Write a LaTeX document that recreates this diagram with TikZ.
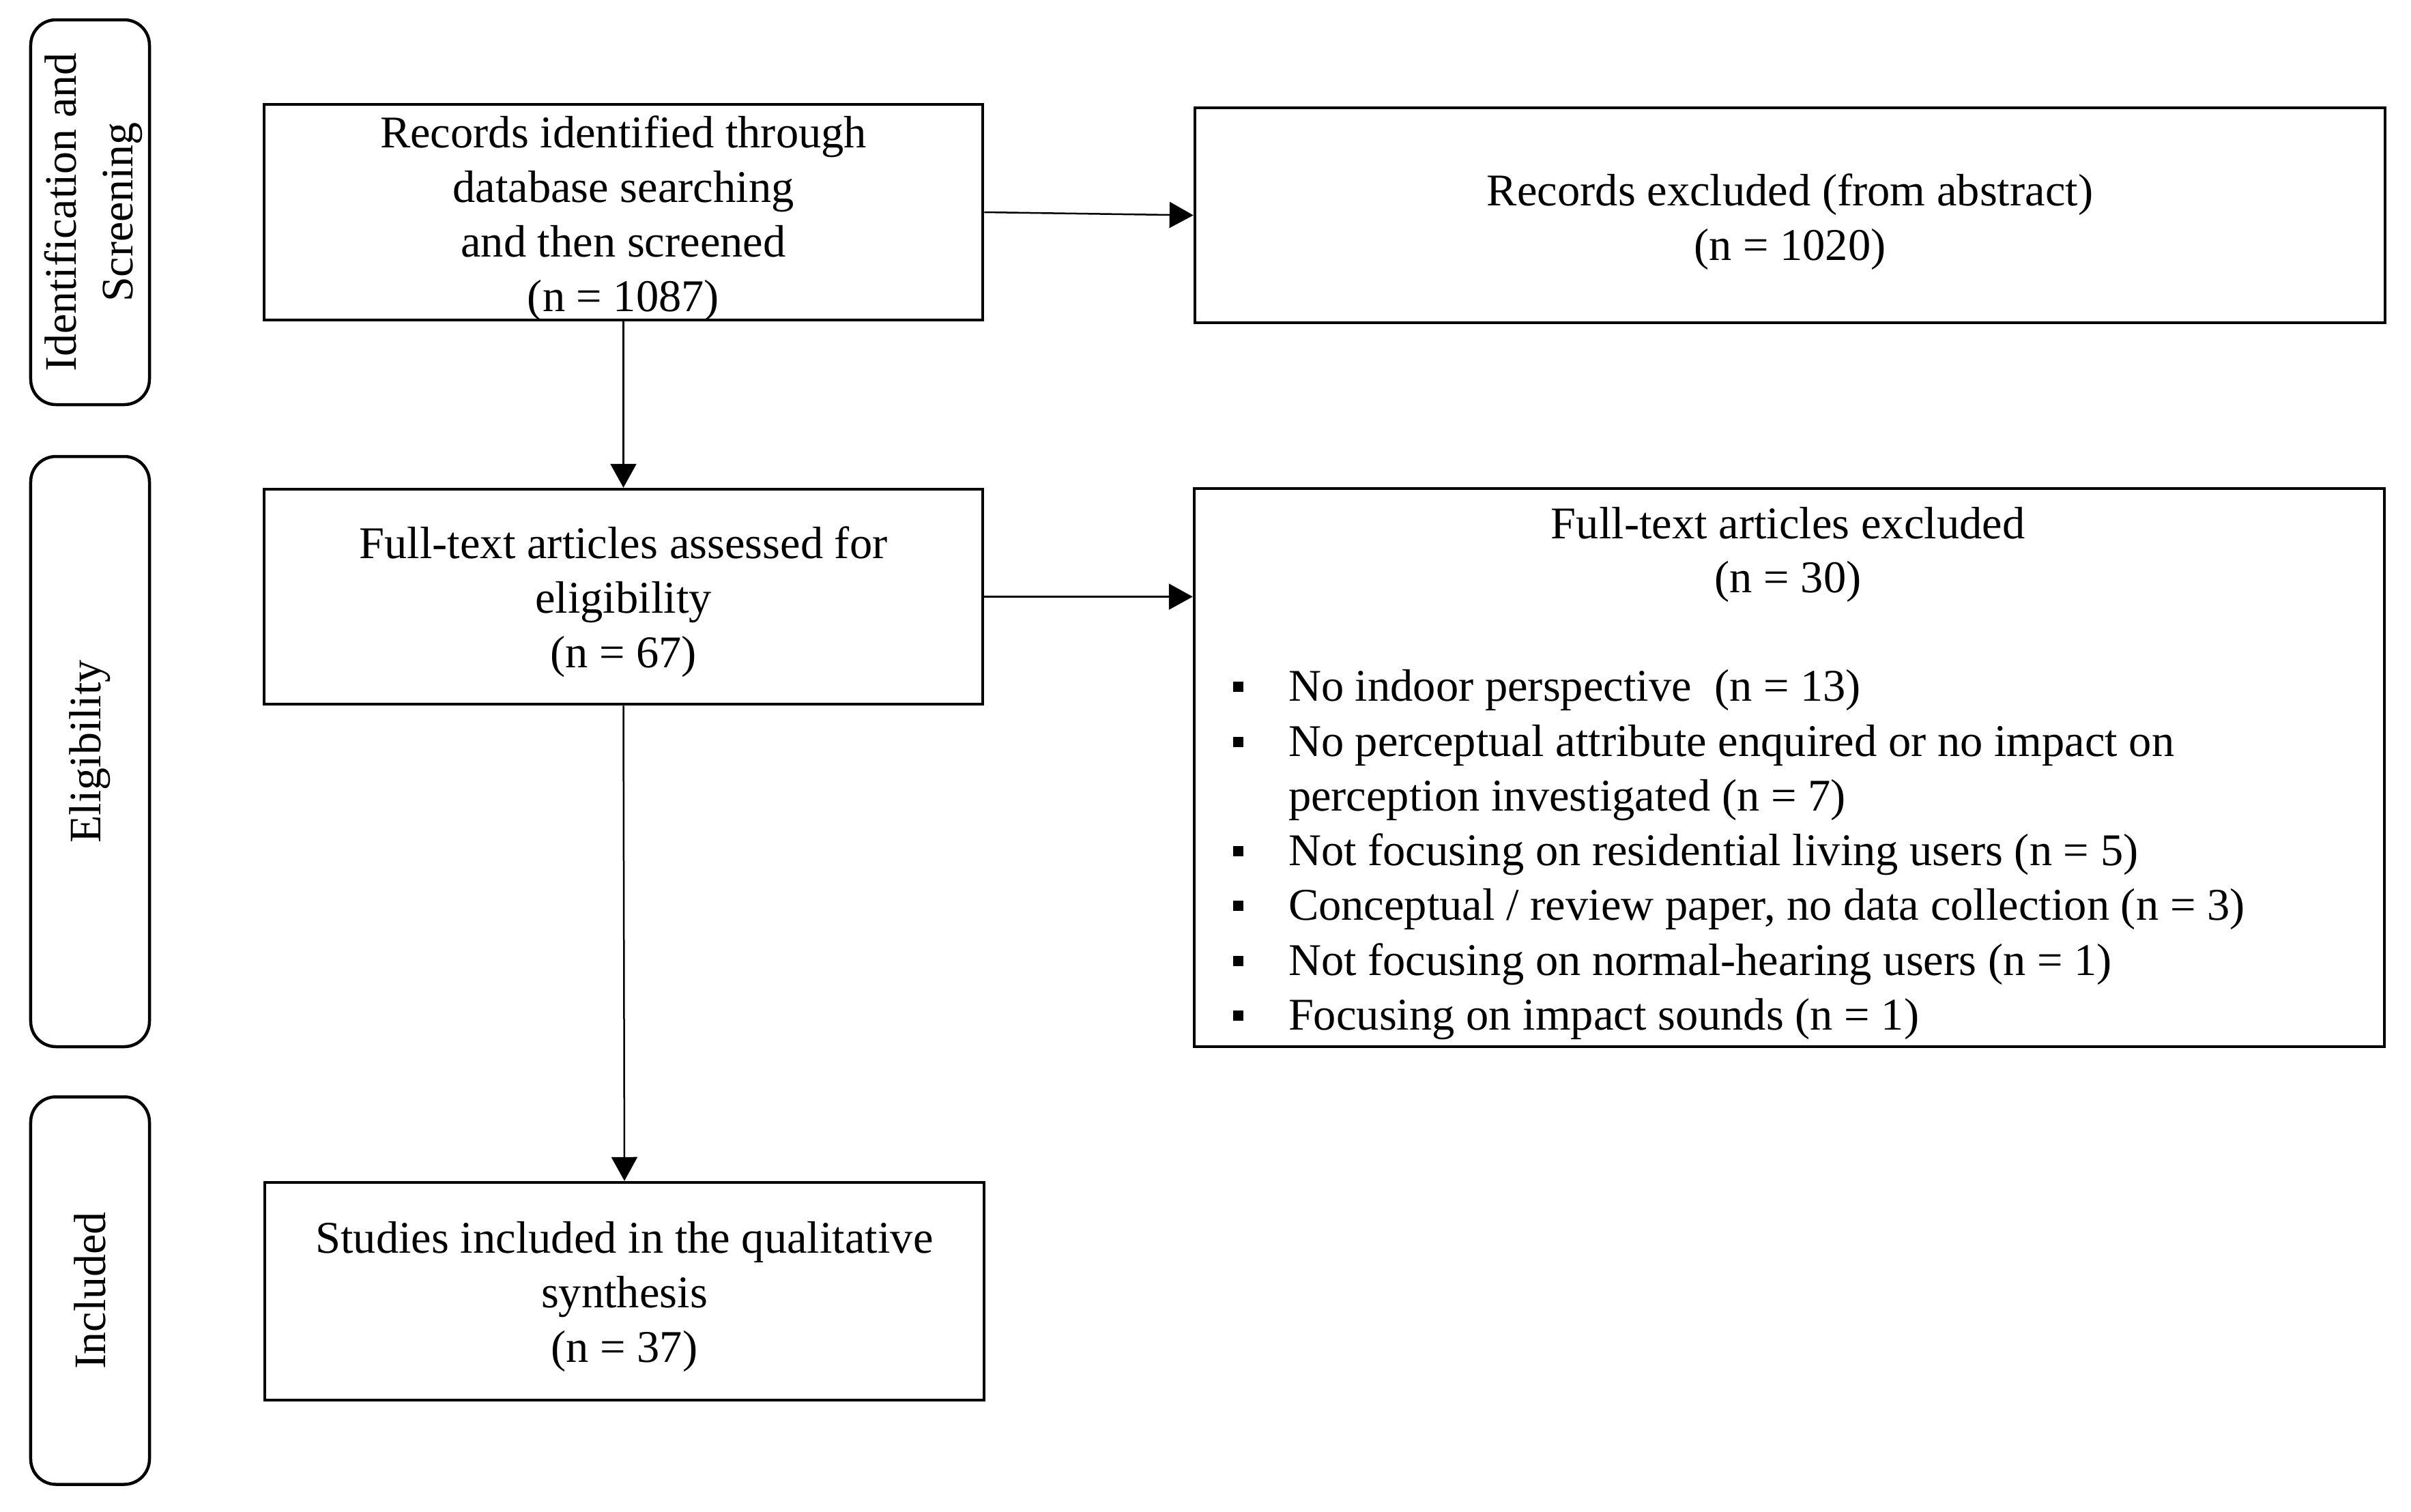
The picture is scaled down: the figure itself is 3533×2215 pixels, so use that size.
\documentclass[tikz,border=0pt]{standalone}
\usepackage{fontspec}
\setmainfont{Liberation Serif}
\usetikzlibrary{arrows.meta}
\newcommand{\boxfont}{\fontsize{13.3pt}{16pt}\selectfont}
\newcommand{\sidefont}{\fontsize{13.2pt}{16.6pt}\selectfont}
\newcommand{\bulsq}{\rule[2.7pt]{3pt}{3pt}\hspace{13.2pt}}
\begin{document}
\begin{tikzpicture}[x=0.2pt,y=-0.2pt,
  box/.style={draw,line width=0.9pt,rectangle,inner sep=0pt},
  boxtext/.style={align=center,font=\boxfont,inner sep=0pt},
  side/.style={draw,line width=0.9pt,rounded corners=7.4pt,rectangle,inner sep=0pt,minimum width=34.8pt},
  sidetext/.style={rotate=90,align=center,font=\sidefont,inner sep=0pt},
  arr/.style={line width=0.5pt,-{Triangle[width=7.6pt,length=7pt]}},
  itemtext/.style={anchor=base west,font=\boxfont,inner sep=0pt}]
\useasboundingbox (0,0) rectangle (3533,2215);

% side phase boxes
\node[side,minimum height=112.8pt] (s1) at (132,311) {};
\node[sidetext] (s1t) at (137,311) {Identification and\\Screening};
\node[side,minimum height=173pt] (s2) at (132,1101.5) {};
\node[sidetext] (s2t) at (132,1101.5) {Eligibility};
\node[side,minimum height=113.6pt] (s3) at (132,1891.5) {};
\node[sidetext] (s3t) at (132,1891.5) {Included};

% main boxes
\node[box,minimum width=210.6pt,minimum height=63.2pt] (A) at (913.5,311) {};
\node[boxtext] (At) at (913.5,320)
  {Records identified through\\database searching\\and then screened\\(n = 1087)};
\node[box,minimum width=348.8pt,minimum height=63pt] (B) at (2623,315.5) {};
\node[boxtext] (Bt) at (2623,325) {Records excluded (from abstract)\\(n = 1020)};
\node[box,minimum width=210.6pt,minimum height=63pt] (C) at (913.5,874.5) {};
\node[boxtext] (Ct) at (913.5,882)
  {Full-text articles assessed for\\eligibility\\(n = 67)};
\node[box,minimum width=348.8pt,minimum height=163.6pt] (D) at (2622,1125) {};
\node[box,minimum width=210.8pt,minimum height=63.8pt] (E) at (915,1892.5) {};
\node[boxtext] (Et) at (915,1900)
  {Studies included in the qualitative\\synthesis\\(n = 37)};

% contents of the exclusion box
\node[itemtext,anchor=base] (dh1) at (2620,789) {Full-text articles excluded};
\node[itemtext,anchor=base] (dh2) at (2620,868) {(n = 30)};
\node[itemtext] (i1) at (1806,1027) {\bulsq No indoor perspective\ \ (n = 13)};
\node[itemtext] (i2) at (1806,1108) {\bulsq No perceptual attribute enquired or no impact on};
\node[itemtext] (i2b) at (1887,1188) {perception investigated (n = 7)};
\node[itemtext] (i3) at (1806,1268) {\bulsq Not focusing on residential living users (n = 5)};
\node[itemtext] (i4) at (1806,1348) {\bulsq Conceptual / review paper, no data collection (n = 3)};
\node[itemtext] (i5) at (1806,1429) {\bulsq Not focusing on normal-hearing users (n = 1)};
\node[itemtext] (i6) at (1806,1509) {\bulsq Focusing on impact sounds (n = 1)};

% connectors
\draw[arr] (A.east) -- (B.west);
\draw[arr] (A.south) -- (C.north);
\draw[arr] (C.east) -- (C.east -| D.west);
\draw[arr] (C.south) -- (E.north);
\end{tikzpicture}
\end{document}
